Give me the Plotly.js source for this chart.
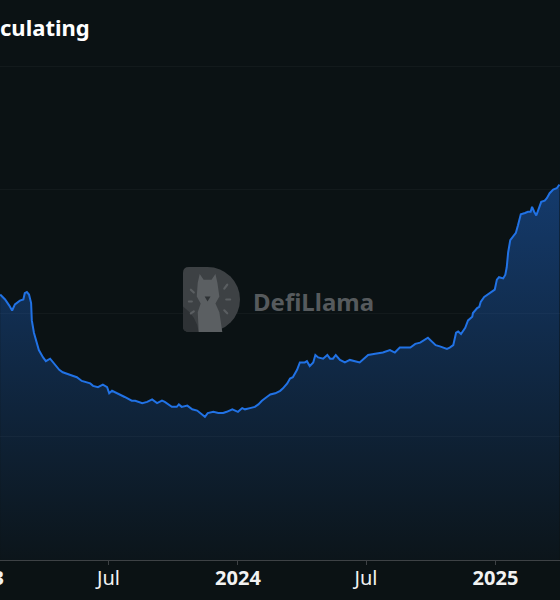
<!DOCTYPE html>
<html>
<head>
<meta charset="utf-8">
<script src="https://cdn.plot.ly/plotly-3.0.1.min.js"></script>
<style>
  html, body { margin: 0; padding: 0; background: #0b1214; overflow: hidden; width: 560px; height: 600px; }
  #chart { position: absolute; left: -60px; top: 0; width: 620px; height: 600px; }
</style>
</head>
<body>
<div id="chart"></div>
<script>
// ---- data ----
const dates = [
  "2023-01-28","2023-02-04","2023-02-10","2023-02-14","2023-02-18","2023-02-25","2023-03-02","2023-03-04",
  "2023-03-07","2023-03-10","2023-03-13","2023-03-14","2023-03-17","2023-03-20","2023-03-24","2023-03-30",
  "2023-04-03","2023-04-09","2023-04-13","2023-04-19","2023-04-22","2023-04-27","2023-05-03","2023-05-07",
  "2023-05-12","2023-05-17","2023-05-24","2023-06-05","2023-06-09","2023-06-16","2023-06-23","2023-06-29",
  "2023-07-02","2023-07-06","2023-07-14","2023-07-24","2023-08-03","2023-08-08","2023-08-18","2023-08-25",
  "2023-09-01","2023-09-08","2023-09-15","2023-09-19","2023-09-29","2023-10-06","2023-10-09","2023-10-13",
  "2023-10-21","2023-10-28","2023-11-04","2023-11-11","2023-11-15","2023-11-19","2023-11-27","2023-12-04",
  "2023-12-11","2023-12-16","2023-12-24","2023-12-28","2024-01-01","2024-01-07","2024-01-11","2024-01-18",
  "2024-01-25","2024-01-30","2024-02-04","2024-02-11","2024-02-16","2024-02-23","2024-03-01","2024-03-05",
  "2024-03-11","2024-03-15","2024-03-19","2024-03-25","2024-03-29","2024-04-05","2024-04-08","2024-04-12",
  "2024-04-17","2024-04-20","2024-04-24","2024-05-01","2024-05-07","2024-05-11","2024-05-15","2024-05-19",
  "2024-05-25","2024-06-01","2024-06-08","2024-06-22","2024-07-04","2024-07-14","2024-07-25","2024-08-04",
  "2024-08-11","2024-08-18","2024-09-02","2024-09-09","2024-09-16","2024-09-27","2024-10-03","2024-10-08",
  "2024-10-14","2024-10-21","2024-10-24","2024-10-28","2024-11-02","2024-11-06","2024-11-09","2024-11-13",
  "2024-11-19","2024-11-23","2024-11-29","2024-11-30","2024-12-06","2024-12-09","2024-12-11","2024-12-16",
  "2024-12-21","2024-12-27","2024-12-31","2025-01-03","2025-01-06","2025-01-12","2025-01-15","2025-01-17",
  "2025-01-19","2025-01-22","2025-01-26","2025-01-30","2025-02-02","2025-02-06","2025-02-12","2025-02-16",
  "2025-02-20","2025-02-22","2025-02-25","2025-02-28","2025-03-02","2025-03-07","2025-03-12","2025-03-15",
  "2025-03-19","2025-03-24","2025-03-29","2025-04-02"
];
const circulating = [
  2.15,2.11,2.06,2.02,2.07,2.10,2.11,2.16,
  2.17,2.15,2.08,1.94,1.84,1.78,1.70,1.64,
  1.61,1.63,1.60,1.56,1.54,1.52,1.51,1.50,
  1.49,1.48,1.45,1.43,1.41,1.40,1.42,1.40,
  1.35,1.37,1.35,1.32,1.29,1.29,1.27,1.28,
  1.30,1.27,1.29,1.28,1.24,1.24,1.26,1.24,
  1.25,1.22,1.21,1.18,1.16,1.19,1.20,1.19,
  1.19,1.20,1.22,1.21,1.20,1.23,1.22,1.23,
  1.24,1.26,1.29,1.32,1.34,1.35,1.37,1.39,
  1.43,1.47,1.48,1.54,1.60,1.60,1.61,1.57,
  1.60,1.66,1.64,1.63,1.66,1.63,1.63,1.66,
  1.62,1.60,1.62,1.60,1.66,1.67,1.68,1.70,
  1.68,1.72,1.72,1.75,1.76,1.80,1.77,1.74,
  1.73,1.72,1.71,1.72,1.74,1.84,1.85,1.83,
  1.88,1.94,1.97,2.00,2.04,2.05,2.09,2.13,
  2.15,2.18,2.19,2.27,2.29,2.28,2.31,2.37,
  2.49,2.59,2.62,2.65,2.71,2.80,2.81,2.82,
  2.82,2.86,2.82,2.79,2.82,2.90,2.91,2.93,
  2.97,3.00,3.01,3.04
];
const tickDates = ["2023-01-01","2023-07-01","2024-01-01","2024-07-01","2025-01-01"];
const tickLabels = ["<b>2023</b>","Jul","<b>2024</b>","Jul","<b>2025</b>"];
const titleText = "culating";
const watermarkText = "DefiLlama";

// watermark logo (decorative image)
const logoSvg =
  '<svg xmlns="http://www.w3.org/2000/svg" width="58" height="66" viewBox="0 0 58 66">' +
  '<path d="M6,0 H25 A33,33 0 0 1 25,66 H6 Q0,66 0,60 V6 Q0,0 6,0 Z" fill="#3d4144"/>' +
  '<path d="M0,40 Q14,50 16,66 H6 Q0,66 0,60 Z" fill="#2e3235"/>' +
  '<path d="M15,16 L17,7 L21,13 L29,13 L33,7 L35,16 L37,30 L33,37 L37,46 L40,66 L16,66 L15,46 L18,37 L14,30 Z" fill="#5b5f62"/>' +
  '<path d="M22,30 L28,30 L25,35 Z" fill="#2e3235"/>' +
  '<g stroke="#5a5e61" stroke-width="2.2" stroke-linecap="round">' +
  '<line x1="8" y1="23" x2="11" y2="26"/><line x1="6" y1="35" x2="9" y2="35"/><line x1="8" y1="47" x2="11" y2="45"/>' +
  '<line x1="45" y1="18" x2="42" y2="22"/><line x1="48" y1="33" x2="44" y2="33"/><line x1="45" y1="47" x2="42" y2="44"/>' +
  '</g></svg>';
const logoUri = "data:image/svg+xml;base64," + btoa(logoSvg);

// pixel helpers for the decorative watermark (div is shifted 60px left)
const W = 620, plotTop = 40, plotBottom = 560, H = plotBottom - plotTop;
const px = wx => (wx + 60) / W;
const py = wy => (plotBottom - wy) / H;
const xRange = ["2022-11-03 12:00", "2025-04-02 17:00"];

const trace = {
  x: dates,
  y: circulating,
  type: "scatter",
  mode: "lines",
  line: { color: "#2172e5", width: 2 },
  fill: "tozeroy",
  fillgradient: {
    type: "vertical",
    start: 0,
    stop: 3.04,
    colorscale: [[0, "rgba(33,114,229,0.03)"], [1, "rgba(33,114,229,0.42)"]]
  },
  hoverinfo: "skip"
};

const layout = {
  width: 620,
  height: 600,
  margin: { l: 0, r: 0, t: plotTop, b: 600 - plotBottom, pad: 0 },
  paper_bgcolor: "#0b1214",
  plot_bgcolor: "#0b1214",
  showlegend: false,
  title: {
    text: "<b>" + titleText + "</b>",
    xref: "container", yref: "container",
    x: 60 / W, xanchor: "left",
    y: 1 - 28 / 600, yanchor: "middle",
    font: { family: "Noto Sans", size: 22, color: "#ffffff" }
  },
  xaxis: {
    type: "date",
    range: xRange,
    tickmode: "array",
    tickvals: tickDates,
    ticktext: tickLabels,
    showgrid: false,
    zeroline: false,
    showline: true,
    linecolor: "#3e4245",
    linewidth: 1,
    ticks: "",
    ticklen: 0,
    tickfont: { family: "Noto Sans", size: 20, color: "#f2f2f2" },
    fixedrange: true
  },
  xaxis2: {
    type: "date",
    overlaying: "x",
    matches: "x",
    anchor: "y",
    side: "bottom",
    range: xRange,
    tickmode: "array",
    tickvals: tickDates,
    showticklabels: false,
    showgrid: false,
    zeroline: false,
    showline: false,
    ticks: "outside",
    ticklen: 4,
    tickcolor: "#3e4245",
    fixedrange: true
  },
  yaxis: {
    range: [0, H / 123.5],
    dtick: 1,
    tick0: 0,
    showticklabels: false,
    showgrid: true,
    gridcolor: "rgba(255,255,255,0.035)",
    gridwidth: 1,
    zeroline: false,
    showline: false,
    ticks: "",
    fixedrange: true
  },
  images: [{
    source: logoUri,
    xref: "paper", yref: "paper",
    x: px(183), y: py(267),
    sizex: 57 / W, sizey: 65 / H,
    xanchor: "left", yanchor: "top",
    sizing: "stretch",
    layer: "above",
    opacity: 1
  }],
  annotations: [{
    text: "<b>" + watermarkText + "</b>",
    xref: "paper", yref: "paper",
    x: px(251), y: py(301),
    xanchor: "left", yanchor: "middle",
    showarrow: false,
    font: { family: "Noto Sans", size: 24, color: "#565a5d" }
  }]
};

// an empty helper trace so the tick-mark axis (xaxis2) is drawn
const tickTrace = { x: [], y: [], xaxis: "x2", yaxis: "y", type: "scatter", mode: "lines", hoverinfo: "skip", showlegend: false };

Plotly.newPlot("chart", [trace, tickTrace], layout, { displayModeBar: false, staticPlot: true });
</script>
</body>
</html>
